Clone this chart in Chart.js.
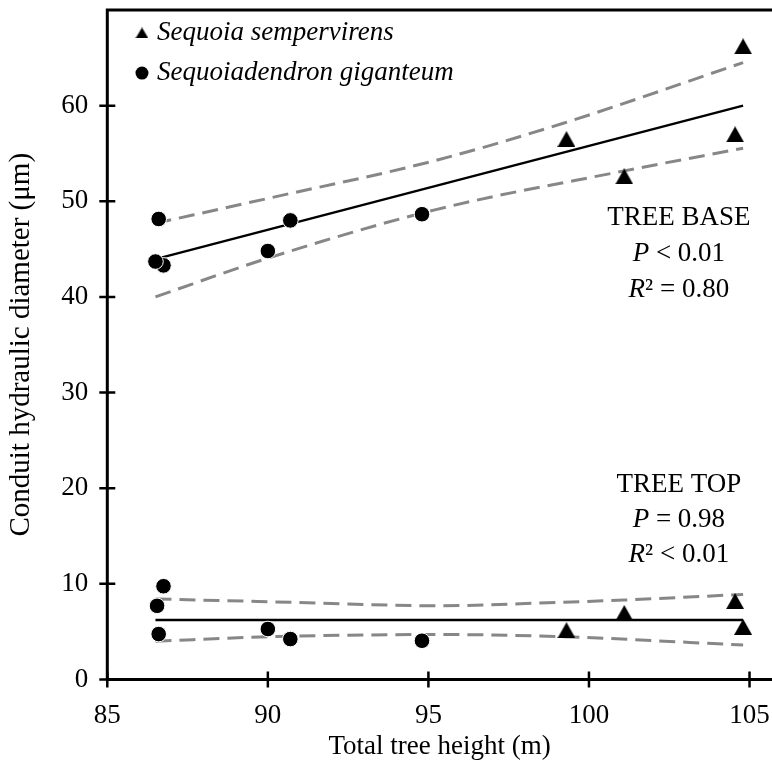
<!DOCTYPE html>
<html><head><meta charset="utf-8">
<script src="https://cdn.jsdelivr.net/npm/chart.js@4.4.1/dist/chart.umd.min.js"></script>
<style>html,body{margin:0;padding:0;background:#fff}</style>
</head><body>
<canvas id="c" width="772" height="769"></canvas>
<script>
// ---------- data ----------
const seriesNames = ['Sequoia sempervirens', 'Sequoiadendron giganteum'];
const xTickValues = [85, 90, 95, 100, 105];
const yTickValues = [0, 10, 20, 30, 40, 50, 60];
const xTitle = 'Total tree height (m)';
const yTitle = 'Conduit hydraulic diameter (μm)';

// Sequoia sempervirens (triangles)
const redwoodBaseX = [99.3, 101.1, 104.55, 104.8];
const redwoodBaseY = [56.5, 52.6, 57.0, 66.2];
const redwoodTopX  = [99.3, 101.1, 104.55, 104.8];
const redwoodTopY  = [5.15, 6.95, 8.2, 5.5];

// Sequoiadendron giganteum (circles)
const sequoiaBaseX = [86.6, 86.75, 86.5, 90.0, 90.7, 94.8];
const sequoiaBaseY = [48.15, 43.3, 43.7, 44.8, 48.0, 48.65];
const sequoiaTopX  = [86.75, 86.55, 86.6, 90.0, 90.7, 94.8];
const sequoiaTopY  = [9.75, 7.7, 4.75, 5.28, 4.23, 4.05];

// regression lines and confidence bands
const baseFitX = [86.5, 104.8];
const baseFitY = [43.95, 60.0];
const baseUpperX = [86.5, 90.0, 95.2, 99.2, 104.8];
const baseUpperY = [47.7, 50.3, 54.25, 58.16, 64.5];
const baseLowerX = [86.5, 90.0, 95.2, 101.1, 104.8];
const baseLowerY = [40.0, 44.05, 49.1, 53.18, 55.55];

const topFitX = [86.5, 104.8];
const topFitY = [6.22, 6.22];
const topUpperX = [86.5, 90.8, 95.3, 98.2, 101.1, 104.8];
const topUpperY = [8.42, 8.07, 7.71, 7.96, 8.31, 8.9];
const topLowerX = [86.5, 90.0, 95.3, 99.2, 104.8];
const topLowerY = [4.0, 4.47, 4.7, 4.47, 3.6];

// annotation texts
const baseNote = ['TREE BASE', [['P', 1], [' < 0.01', 0]], [['R', 1], ['² = 0.80', 0]]];
const topNote  = ['TREE TOP',  [['P', 1], [' = 0.98', 0]], [['R', 1], ['² < 0.01', 0]]];

// ---------- helpers ----------
const FAM = '"Liberation Serif", "Times New Roman", serif';
const FS = 27;
const pts = (xs, ys) => xs.map((x, i) => ({x: x, y: ys[i]}));

function triangleImg(w, h) {
  const c = document.createElement('canvas');
  c.width = w; c.height = h;
  const g = c.getContext('2d');
  g.fillStyle = '#000';
  g.beginPath();
  g.moveTo(w / 2, 0); g.lineTo(w, h); g.lineTo(0, h); g.closePath();
  g.fill();
  return c;
}
const triMarker = triangleImg(18, 16);
const triLegend = triangleImg(13, 11);

const circleStyle = {pointStyle: 'circle', pointRadius: 7.8, pointBackgroundColor: '#000', pointBorderColor: '#fff', pointBorderWidth: 1, showLine: false, order: 1};
const triStyle = {pointStyle: triMarker, pointRadius: 8, showLine: false, order: 1};
const fitStyle = {showLine: true, pointRadius: 0, borderColor: '#000', borderWidth: 2.5, fill: false, order: 3};
const ciStyle = {showLine: true, pointRadius: 0, borderColor: '#878787', borderWidth: 3, borderDash: [16, 8], fill: false, tension: 0.4, cubicInterpolationMode: 'monotone', order: 2};

const datasets = [
  Object.assign({label: 'base fit', data: pts(baseFitX, baseFitY)}, fitStyle),
  Object.assign({label: 'base upper', data: pts(baseUpperX, baseUpperY)}, ciStyle),
  Object.assign({label: 'base lower', data: pts(baseLowerX, baseLowerY)}, ciStyle),
  Object.assign({label: 'top fit', data: pts(topFitX, topFitY)}, fitStyle),
  Object.assign({label: 'top upper', data: pts(topUpperX, topUpperY)}, ciStyle),
  Object.assign({label: 'top lower', data: pts(topLowerX, topLowerY)}, ciStyle),
  Object.assign({label: seriesNames[0] + ' (base)', data: pts(redwoodBaseX, redwoodBaseY)}, triStyle),
  Object.assign({label: seriesNames[0] + ' (top)', data: pts(redwoodTopX, redwoodTopY)}, triStyle),
  Object.assign({label: seriesNames[1] + ' (base)', data: pts(sequoiaBaseX, sequoiaBaseY)}, circleStyle),
  Object.assign({label: seriesNames[1] + ' (top)', data: pts(sequoiaTopX, sequoiaTopY)}, circleStyle)
];

function drawNote(ctx, lines, cx, y0, gap) {
  ctx.save();
  ctx.fillStyle = '#000';
  ctx.textBaseline = 'middle';
  ctx.textAlign = 'left';
  lines.forEach((ln, k) => {
    const segs = typeof ln === 'string' ? [[ln, 0]] : ln;
    let w = 0;
    segs.forEach(s => { ctx.font = (s[1] ? 'italic ' : '') + FS + 'px ' + FAM; w += ctx.measureText(s[0]).width; });
    let x = cx - w / 2;
    const y = y0 + k * gap;
    segs.forEach(s => { ctx.font = (s[1] ? 'italic ' : '') + FS + 'px ' + FAM; ctx.fillText(s[0], x, y); x += ctx.measureText(s[0]).width; });
  });
  ctx.restore();
}

const framePlugin = {
  id: 'frame',
  afterDraw(chart) {
    const {ctx, chartArea: a, scales: {x, y}} = chart;
    ctx.save();
    ctx.strokeStyle = '#000';
    ctx.lineCap = 'butt';
    // axes and top border
    ctx.lineWidth = 3;
    ctx.beginPath();
    ctx.moveTo(a.left, a.top); ctx.lineTo(a.right, a.top);
    ctx.moveTo(a.left, a.top - 1.5); ctx.lineTo(a.left, a.bottom + 1.5);
    ctx.moveTo(a.left - 1.5, a.bottom); ctx.lineTo(a.right, a.bottom);
    ctx.stroke();
    // crossing tick marks
    ctx.lineWidth = 2.5;
    ctx.beginPath();
    yTickValues.forEach(v => { const p = y.getPixelForValue(v); ctx.moveTo(a.left - 8, p); ctx.lineTo(a.left + 8, p); });
    xTickValues.forEach(v => { const p = x.getPixelForValue(v); ctx.moveTo(p, a.bottom - 8); ctx.lineTo(p, a.bottom + 8); });
    ctx.stroke();

    // legend
    const lx = x.getPixelForValue(86.08), ly1 = y.getPixelForValue(67.6), ly2 = y.getPixelForValue(63.4);
    ctx.drawImage(triLegend, lx - triLegend.width / 2, ly1 - triLegend.height / 2);
    ctx.fillStyle = '#000';
    ctx.beginPath(); ctx.arc(lx, ly2, 6.5, 0, Math.PI * 2); ctx.fill();
    ctx.font = 'italic ' + FS + 'px ' + FAM;
    ctx.textBaseline = 'middle'; ctx.textAlign = 'left';
    ctx.fillText(seriesNames[0], lx + 15, ly1);
    ctx.fillText(seriesNames[1], lx + 15, ly2);

    // annotations
    const cx = x.getPixelForValue(102.8);
    drawNote(ctx, baseNote, cx, y.getPixelForValue(48.25), 36);
    drawNote(ctx, topNote, cx, y.getPixelForValue(20.3), 35);
    ctx.restore();
  }
};

function zeroPad(s) { s.paddingTop = 0; s.paddingBottom = 0; s.paddingLeft = 0; s.paddingRight = 0; }

new Chart(document.getElementById('c'), {
  type: 'scatter',
  data: {datasets: datasets},
  plugins: [framePlugin],
  options: {
    responsive: false,
    animation: false,
    devicePixelRatio: 1,
    layout: {autoPadding: false, padding: {top: 10, right: 0, bottom: 0, left: 0}},
    plugins: {legend: {display: false}, tooltip: {enabled: false}},
    scales: {
      x: {
        type: 'linear', min: 85, max: 105.7,
        afterBuildTicks: s => { s.ticks = xTickValues.map(v => ({value: v})); },
        afterFit: s => { s.height = 89.5; zeroPad(s); },
        grid: {display: false}, border: {display: false},
        ticks: {padding: 12, color: '#000', font: {family: FAM, size: FS}},
        title: {display: true, text: xTitle, color: '#000', font: {family: FAM, size: FS}, padding: {top: 0, bottom: 6}}
      },
      y: {
        type: 'linear', min: 0, max: 70,
        afterBuildTicks: s => { s.ticks = yTickValues.map(v => ({value: v})); },
        afterFit: s => { s.width = 107.3; zeroPad(s); },
        grid: {display: false}, border: {display: false},
        ticks: {padding: 11, color: '#000', font: {family: FAM, size: FS}},
        title: {display: true, text: yTitle, color: '#000', font: {family: FAM, size: 29}, padding: {top: 4, bottom: 0}}
      }
    }
  }
});
</script>
</body></html>
